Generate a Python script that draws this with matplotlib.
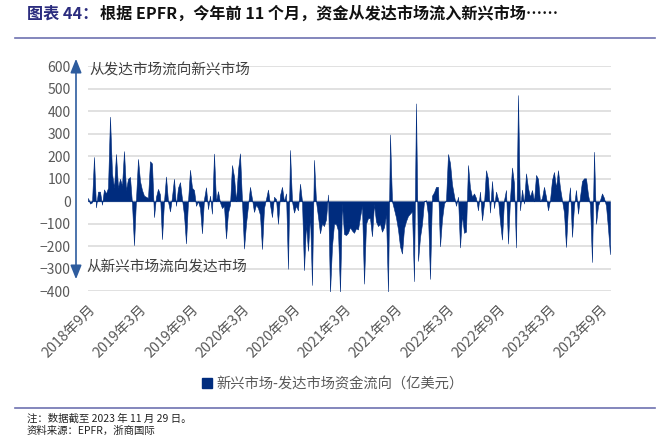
import matplotlib
matplotlib.use('Agg')
import matplotlib.pyplot as plt
import numpy as np
from matplotlib.patches import FancyArrowPatch, Patch
from matplotlib.lines import Line2D

plt.rcParams['font.family'] = ['Noto Sans CJK SC', 'DejaVu Sans']

# weekly net flow, EM minus DM (100m USD), from Sep 2018 to end Nov 2023
flows = [
    15, -10, -5, 197, -27, 43, 43, -15, 53, 35,
    60, 376, 124, 60, 210, 60, 100, 70, 223, 50,
    100, 108, -10, -195, 10, 188, 90, 50, 25, 20,
    15, 178, 168, -70, 20, 55, 30, -168, 0, 110,
    0, -45, 20, 100, -20, 60, 85, 10, -60, -187,
    0, 140, 60, 50, -20, 0, -30, -142, 10, 62,
    -35, 25, -55, 212, 0, 45, -5, -30, -20, -165,
    -50, -15, 161, 110, 0, 140, 213, 0, -210, -100,
    -20, 64, 10, -47, -15, -30, -60, -212, -30, 10,
    52, -15, -70, 20, 10, -100, 27, 64, 0, 35,
    -300, 228, 0, -50, -20, -40, 78, 0, -306, -100,
    -220, -62, -372, 184, 0, -68, -142, -98, -110, -80,
    30, -405, -200, -100, -100, -130, -405, -10, -145, -150,
    -140, -115, -130, -140, -120, -125, -70, -20, -366, -100,
    -75, -75, -155, -12, -90, -110, -100, -135, -115, -60,
    -404, 297, 0, -35, -72, -125, -200, -232, -120, -88,
    -65, -55, -45, -355, 435, -265, -160, -100, 0, 5,
    -60, -345, 25, 40, 64, 64, -200, -80, -10, 5,
    210, 170, 75, 25, -20, 20, -205, -60, -140, -135,
    161, 60, 20, 35, 15, -40, 43, -84, -10, 138,
    100, -50, 90, -30, 43, 10, -90, -170, 5, 50,
    -188, 10, 150, 80, -205, 472, -40, 52, -10, 124,
    60, 20, 50, 0, 117, 100, 0, 15, 64, 20,
    -40, 5, 95, 130, 60, 138, 60, 5, -50, -203,
    -20, 62, -158, -20, 50, -55, 20, 90, 102, 102,
    30, -16, -270, 220, -100, -20, 5, 35, 15, -20,
    -120, -235,
]
tick_labels = ['2018年9月', '2019年3月', '2019年9月', '2020年3月', '2020年9月',
               '2021年3月', '2021年9月', '2022年3月', '2022年9月', '2023年3月',
               '2023年9月']
y_ticks = [-400, -300, -200, -100, 0, 100, 200, 300, 400, 500, 600]

NAVY = '#002C7E'
W, H = 671, 438
fig = plt.figure(figsize=(W / 100, H / 100), dpi=100)


def fx(p):
    return p / W


def fy(p):
    return 1 - p / H


ax = fig.add_axes([fx(88), fy(291.3), fx(611) - fx(88), (291.3 - 66.3) / H])
x = np.arange(len(flows))
ax.fill_between(x, flows, 0, color=NAVY, lw=0.4, edgecolor=NAVY, zorder=3)
ax.set_xlim(0, len(flows) - 0.5)
ax.set_ylim(-400, 600)
ax.set_yticks(y_ticks)
ax.grid(axis='y', color='#D9D9D9', lw=1.1, zorder=0)
ax.set_axisbelow(True)
for s in ax.spines.values():
    s.set_visible(False)
ax.tick_params(axis='y', length=0, pad=12.5, labelsize=10, labelcolor='#595959')
tick_pos = [0.2 + 25.6 * k for k in range(len(tick_labels))]
ax.set_xticks(tick_pos)
ax.set_xticklabels(tick_labels, rotation=45, ha='right', va='top',
                   rotation_mode='anchor', fontsize=10.3, color='#595959')
ax.tick_params(axis='x', length=0, pad=8)

# annotations
fig.text(fx(89), fy(71), '从发达市场流向新兴市场', fontsize=10.5, color='#404040',
         va='center', ha='left')
fig.text(fx(86), fy(268), '从新兴市场流向发达市场', fontsize=10.5, color='#404040',
         va='center', ha='left')
arrow = FancyArrowPatch((fx(76), fy(56)), (fx(76), fy(282)),
                        transform=fig.transFigure,
                        arrowstyle='<|-|>,head_length=0.7,head_width=0.28',
                        mutation_scale=12, color='#2E5C9E', lw=1.2)
fig.add_artist(arrow)

# legend
fig.legend(handles=[Patch(color=NAVY, label='新兴市场-发达市场资金流向（亿美元）')],
           loc='center', bbox_to_anchor=(fx(333), fy(384)), frameon=False,
           handlelength=0.7, handleheight=0.7, handletextpad=0.3, fontsize=10.3,
           labelcolor='#595959')

# title
t1 = fig.text(fx(27), fy(14), '图表 44：', color='#2B2C7E', fontsize=11.6,
              fontweight='bold', va='center', ha='left')
fig.canvas.draw()
bb = t1.get_window_extent()
fig.text(bb.x1 / W + 0.003, fy(14), '根据 EPFR，今年前 11 个月，资金从发达市场流入新兴市场……',
         color='#111111', fontsize=11.6, fontweight='bold', va='center', ha='left')

# rules
fig.add_artist(Line2D([fx(15), fx(655)], [fy(38), fy(38)], color='#6E72B0', lw=1.2))
fig.add_artist(Line2D([fx(15), fx(655)], [fy(408), fy(408)], color='#6E72B0', lw=1.2))

# notes
fig.text(fx(27), fy(419), '注：数据截至 2023 年 11 月 29 日。', fontsize=7.5,
         color='#222222', va='center', ha='left')
fig.text(fx(27), fy(431), '资料来源：EPFR，浙商国际', fontsize=7.5,
         color='#222222', va='center', ha='left')

fig.savefig('out.png', dpi=100)
